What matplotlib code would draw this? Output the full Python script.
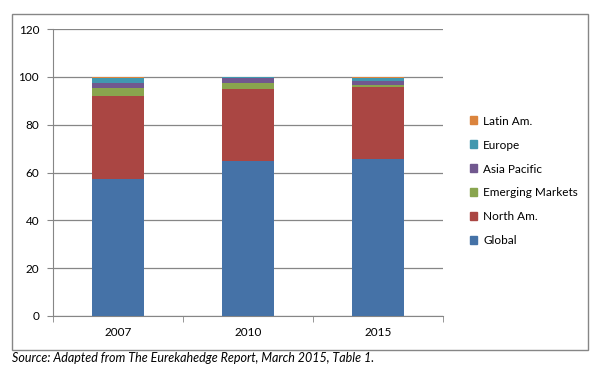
import matplotlib.pyplot as plt
import matplotlib.patches as mpatches
import numpy as np

# Data
years = ["2007", "2010", "2015"]
series_names = ["Global", "North Am.", "Emerging Markets", "Asia Pacific", "Europe", "Latin Am."]
global_vals = [57.2, 64.8, 65.6]
north_am = [34.6, 30.3, 30.2]
emerging = [3.7, 2.3, 0.6]
asia_pacific = [2.1, 2.1, 2.0]
europe = [2.1, 0.4, 1.3]
latin_am = [0.3, 0.1, 0.3]

colors = ["#4572A7", "#AA4643", "#89A54E", "#71588F", "#4198AF", "#DB843D"]

plt.rcParams['font.family'] = ['Lato', 'DejaVu Sans']

fig = plt.figure(figsize=(6.1, 3.92), dpi=100)
ax = fig.add_axes([53 / 610, 1 - 316 / 392, 390 / 610, 287 / 392])

# outer chart border
fig.patches.append(mpatches.Rectangle((12 / 610, 1 - 350 / 392), 576 / 610, 336 / 392,
                                      transform=fig.transFigure, fill=False,
                                      edgecolor="#868686", linewidth=1))

x = np.arange(len(years))
bottom = np.zeros(len(years))
for name, vals, col in zip(series_names,
                           [global_vals, north_am, emerging, asia_pacific, europe, latin_am],
                           colors):
    ax.bar(x, vals, width=0.4, bottom=bottom, color=col, label=name, zorder=3)
    bottom += np.array(vals)

ax.set_xlim(-0.5, 2.5)
ax.set_ylim(0, 120)
ax.set_yticks(range(0, 121, 20))
ax.set_xticks(x)
ax.set_xticklabels(years)
ax.set_xticks([-0.5, 0.5, 1.5, 2.5], minor=True)
ax.tick_params(axis="x", which="major", length=0, pad=8, labelsize=8.5)
ax.tick_params(axis="x", which="minor", length=4, color="#868686", direction="out")
ax.tick_params(axis="y", length=4, color="#868686", labelsize=8.5, pad=6)

ax.grid(axis="y", color="#868686", linewidth=0.9, zorder=0)
for side in ["top", "right"]:
    ax.spines[side].set_visible(False)
for side in ["left", "bottom"]:
    ax.spines[side].set_color("#868686")

handles = [mpatches.Patch(color=c, label=n) for n, c in zip(series_names, colors)][::-1]
fig.legend(handles=handles, loc="center left", bbox_to_anchor=(459 / 610, 1 - 181 / 392),
           frameon=False, fontsize=8.5, handlelength=0.65, handleheight=0.65,
           handletextpad=0.5, labelspacing=1.1)

fig.text(12 / 610, 1 - 358 / 392, "Source: Adapted from The Eurekahedge Report, March 2015, Table 1.",
         fontsize=9, style="italic", va="center", ha="left")

fig.savefig("out.png", dpi=100)
